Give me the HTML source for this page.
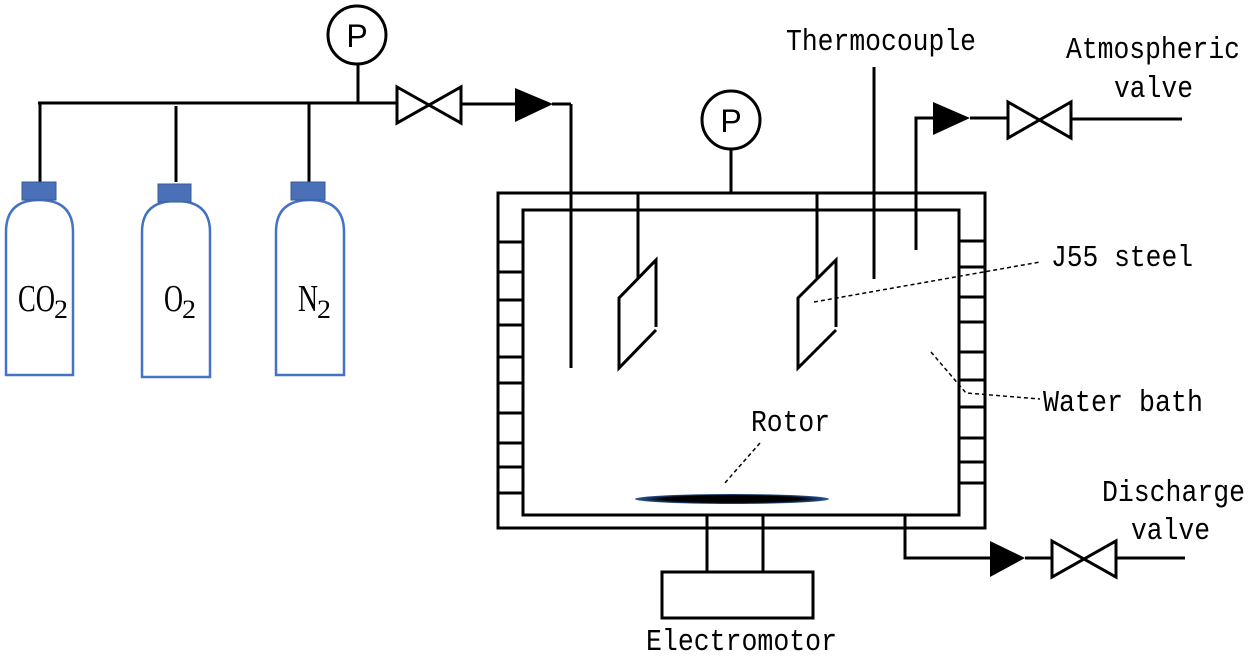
<!DOCTYPE html>
<html><head><meta charset="utf-8"><style>
html,body{margin:0;padding:0;background:#fff;}
svg{display:block;}
.m{font-family:"Liberation Mono",monospace;font-size:31px;fill:#000;}
.s{font-family:"Liberation Serif",serif;font-size:38px;fill:#000;}
</style></head><body>
<svg width="1250" height="657" viewBox="0 0 1250 657" xmlns="http://www.w3.org/2000/svg">
<defs>
<radialGradient id="rg" cx="50%" cy="50%" r="50%">
<stop offset="0" stop-color="#000"/><stop offset="0.7" stop-color="#000"/><stop offset="1" stop-color="#2d5a9e"/>
</radialGradient>
</defs>
<g stroke="#000" stroke-width="3" fill="none">
<line x1="38" y1="103" x2="397" y2="103"/>
<line x1="40" y1="103" x2="40" y2="182"/>
<line x1="176" y1="106" x2="176" y2="182"/>
<line x1="309" y1="103" x2="309" y2="182"/>
<circle cx="357" cy="35" r="29"/>
<line x1="358" y1="64" x2="358" y2="103"/>
<path d="M397,87 L461,123 L461,87 L397,123 Z"/>
<line x1="461" y1="104" x2="516" y2="104"/>
<line x1="552" y1="104" x2="571" y2="104"/>
<line x1="571" y1="104" x2="571" y2="368"/>
<rect x="498" y="193" width="487" height="335"/>
<rect x="523" y="210" width="436" height="305"/>
<path d="M498,242H523M498,272H523M498,300H523M498,325H523M498,357H523M498,383H523M498,413H523M498,443H523M498,467H523M498,493H523"/>
<path d="M959,241H985M959,267H985M959,297H985M959,322H985M959,352H985M959,380H985M959,407H985M959,438H985M959,462H985M959,483H985"/>
<circle cx="731" cy="120" r="29"/>
<line x1="731" y1="149" x2="731" y2="193"/>
<line x1="638" y1="193" x2="638" y2="278"/>
<path d="M656,327 L656,260 L619,298 L619,368 L656,330"/>
<line x1="817" y1="193" x2="817" y2="278"/>
<path d="M836,327 L836,260 L798,298 L798,368 L836,330"/>
<line x1="874" y1="67" x2="874" y2="279"/>
<polyline points="916,250 916,118 935,118"/>
<line x1="970" y1="118" x2="1008" y2="118"/>
<path d="M1008,102 L1071,138 L1071,102 L1008,138 Z"/>
<line x1="1071" y1="119" x2="1182" y2="119"/>
<line x1="707" y1="515" x2="707" y2="572"/>
<line x1="763" y1="515" x2="763" y2="572"/>
<rect x="662" y="572" width="151" height="46"/>
<polyline points="905,515 905,558 990,558"/>
<line x1="1025" y1="558" x2="1052" y2="558"/>
<path d="M1052,541 L1116,577 L1116,541 L1052,577 Z"/>
<line x1="1116" y1="558" x2="1185" y2="558"/>
</g>
<polygon points="515,88 553,104 515,122" fill="#000"/>
<polygon points="933,102 970,118 933,135" fill="#000"/>
<polygon points="990,541 1025,558 990,577" fill="#000"/>
<ellipse cx="732" cy="499" rx="97" ry="5" fill="url(#rg)"/>
<g stroke="#000" stroke-width="1.5" fill="none" stroke-dasharray="4,3">
<line x1="760" y1="443" x2="724" y2="484"/>
<line x1="814" y1="302" x2="1040" y2="262"/>
<polyline points="931,352 966,393 1040,399"/>
</g>
<g stroke="#4472c4" stroke-width="2.5" fill="#fff">
<path d="M6,375 L6,232 Q6,200 39,200 Q73,200 73,232 L73,375 Z"/>
<path d="M142,377 L142,232 Q142,201 176,201 Q210,201 210,232 L210,377 Z"/>
<path d="M276,375 L276,232 Q276,200 310,200 Q344,200 344,232 L344,375 Z"/>
</g>
<g fill="#4a70b8" stroke="#3a5a9a" stroke-width="1">
<rect x="22" y="182" width="34" height="18"/>
<rect x="158" y="184" width="33" height="18"/>
<rect x="291" y="182" width="34" height="18"/>
</g>
<text class="s" x="18" y="311" textLength="37" lengthAdjust="spacingAndGlyphs">CO</text>
<text x="54" y="318" font-family="Liberation Serif,serif" font-size="26" textLength="14" lengthAdjust="spacingAndGlyphs">2</text>
<text class="s" x="164" y="311" textLength="19" lengthAdjust="spacingAndGlyphs">O</text>
<text x="182" y="318" font-family="Liberation Serif,serif" font-size="26" textLength="14" lengthAdjust="spacingAndGlyphs">2</text>
<text class="s" x="298" y="311" textLength="20" lengthAdjust="spacingAndGlyphs">N</text>
<text x="317" y="318" font-family="Liberation Serif,serif" font-size="26" textLength="14" lengthAdjust="spacingAndGlyphs">2</text>
<text x="357" y="47" font-family="Liberation Sans,sans-serif" font-size="32" text-anchor="middle">P</text>
<text x="731" y="132" font-family="Liberation Sans,sans-serif" font-size="32" text-anchor="middle">P</text>
<text class="m" x="786" y="50" textLength="190" lengthAdjust="spacingAndGlyphs">Thermocouple</text>
<text class="m" x="1066" y="58" textLength="174" lengthAdjust="spacingAndGlyphs">Atmospheric</text>
<text class="m" x="1114" y="97" textLength="79" lengthAdjust="spacingAndGlyphs">valve</text>
<text class="m" x="1051" y="266" textLength="142" lengthAdjust="spacingAndGlyphs">J55 steel</text>
<text class="m" x="1043" y="411" textLength="160" lengthAdjust="spacingAndGlyphs">Water bath</text>
<text class="m" x="751" y="431" textLength="79" lengthAdjust="spacingAndGlyphs">Rotor</text>
<text class="m" x="1102" y="501" textLength="143" lengthAdjust="spacingAndGlyphs">Discharge</text>
<text class="m" x="1131" y="539" textLength="79" lengthAdjust="spacingAndGlyphs">valve</text>
<text class="m" x="646" y="650" textLength="191" lengthAdjust="spacingAndGlyphs">Electromotor</text>
</svg>
</body></html>
